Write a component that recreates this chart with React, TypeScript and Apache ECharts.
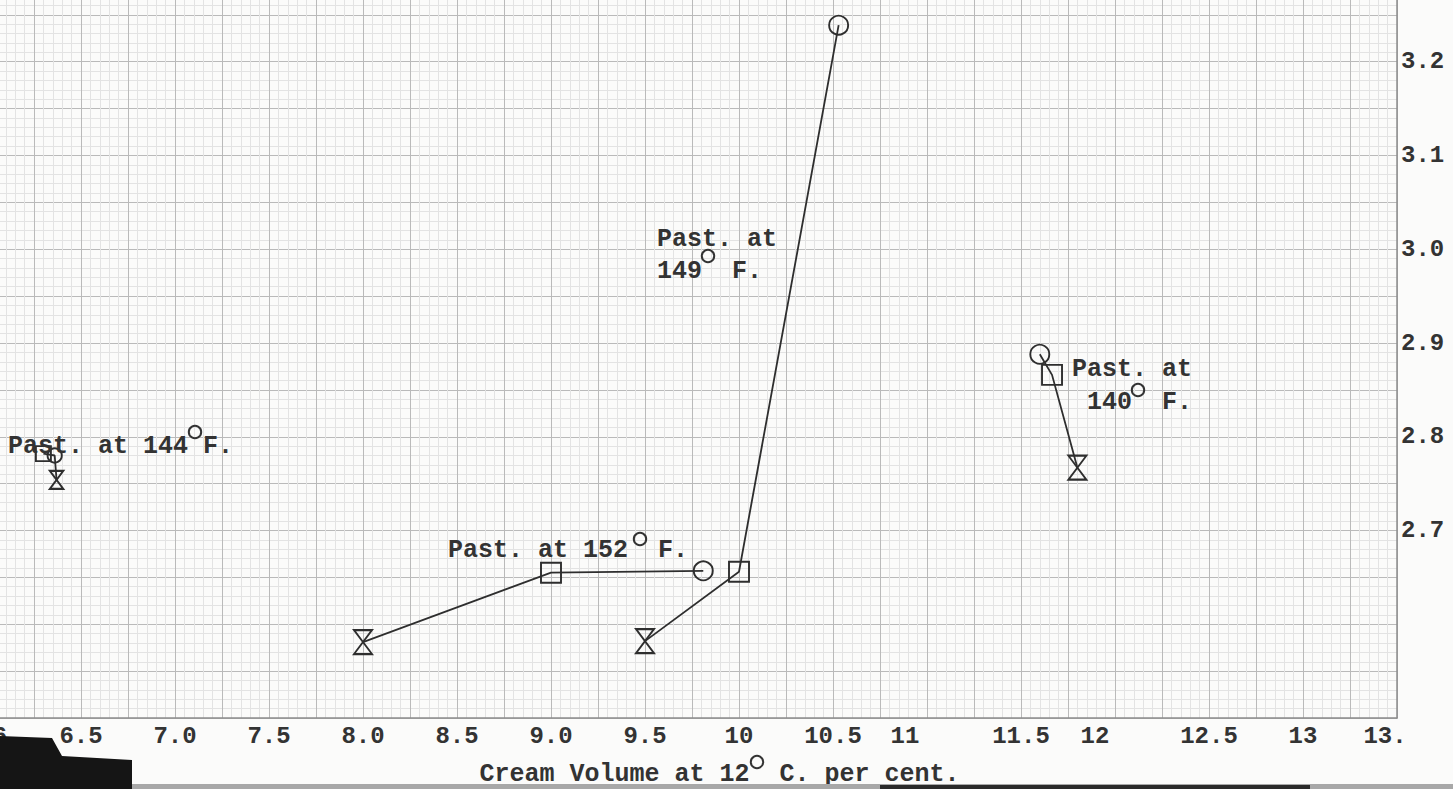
import React, { useEffect, useRef } from "react";
import * as echarts from "echarts";

// ---- tick labels ----
const xTickValues = [6, 6.5, 7, 7.5, 8, 8.5, 9, 9.5, 10, 10.5, 11, 11.5, 12, 12.5, 13, 13.5];
const xTickLabels = ["6", "6.5", "7.0", "7.5", "8.0", "8.5", "9.0", "9.5", "10", "10.5", "11", "11.5", "12", "12.5", "13", "13."];
const yTickValues = [2.7, 2.8, 2.9, 3.0, 3.1, 3.2];
const yTickLabels = ["2.7", "2.8", "2.9", "3.0", "3.1", "3.2"];

// ---- series (cream volume %, y value) ----
const past152X = [8.0, 9.0, 9.81];
const past152Y = [2.581, 2.655, 2.657];
const past152Marks = ["hourglass", "square", "circle"];

const past149X = [9.5, 10.0, 10.53];
const past149Y = [2.582, 2.656, 3.239];
const past149Marks = ["hourglass", "square", "circle"];

const past140X = [11.6, 11.665, 11.8];
const past140Y = [2.888, 2.866, 2.767];
const past140Marks = ["circle", "square", "hourglass"];

const past144X = [6.3, 6.36, 6.37];
const past144Y = [2.782, 2.78, 2.754];
const past144Marks = ["square", "circle", "hourglass"];

// ---- styles ----
const FONT = "'Liberation Mono', 'Courier New', monospace";
const INK = "#333333";
const SYMBOLS: Record<string, string> = {
  circle: "circle",
  square: "rect",
  hourglass: "path://M0,0L10,0L0,12L10,12Z",
};
const SIZES: Record<string, number[]> = {
  circle: [19, 19],
  square: [20, 20],
  hourglass: [18, 24],
};
// label nudges in px (positive = left, negative = right), matching the typed labels
const X_SHIFT: Record<string, number> = { "6": -13, "11": 22, "12": 20, "13.": 12 };

function buildSeries(name: string, xs: number[], ys: number[], marks: string[], scale: number) {
  return {
    name,
    type: "line",
    data: xs.map((x, i) => ({
      value: [x, ys[i]],
      symbol: SYMBOLS[marks[i]],
      symbolSize: SIZES[marks[i]].map((s) => s * scale),
    })),
    lineStyle: { color: "#2e2e2e", width: 1.8 },
    itemStyle: { color: "rgba(0,0,0,0)", borderColor: "#2e2e2e", borderWidth: 1.9 },
    showSymbol: true,
    symbolKeepAspect: false,
    clip: false,
    z: 5,
  };
}

function findIdx(vals: number[], v: number) {
  for (let i = 0; i < vals.length; i++) if (Math.abs(vals[i] - v) < 1e-6) return i;
  return -1;
}

export default function App() {
  const ref = useRef<HTMLDivElement>(null);
  useEffect(() => {
    if (!ref.current) return;
    const chart = echarts.init(ref.current, null, { renderer: "svg" });
    const richShift: Record<string, any> = {};
    Object.entries(X_SHIFT).forEach(([, s]) => {
      const key = s < 0 ? "r" + -s : "l" + s;
      richShift[key] = { padding: s < 0 ? [0, 0, 0, -2 * s] : [0, 2 * s, 0, 0] };
    });
    const annoText = (x: number, y: number, text: string, lh: number) => ({
      type: "text",
      x,
      y,
      z: 10,
      style: {
        text,
        fill: INK,
        fontFamily: FONT,
        fontSize: 25,
        fontWeight: "bold",
        lineHeight: lh,
        verticalAlign: "top",
        align: "left",
      },
    });
    // degree sign drawn as a small ring
    const degree = (cx: number, cy: number) => ({
      type: "circle",
      z: 10,
      shape: { cx, cy, r: 6.2 },
      style: { fill: "none", stroke: INK, lineWidth: 2 },
    });
    chart.setOption({
      animation: false,
      backgroundColor: "#fbfbfa",
      grid: {
        left: -13,
        right: 56,
        top: -32,
        bottom: 71,
        containLabel: false,
        outerBoundsMode: "none",
      },
      xAxis: {
        type: "value",
        min: 6,
        max: 13.5,
        interval: 0.25,
        axisLine: { show: true, lineStyle: { color: "#8c8c8c", width: 1.5 } },
        axisTick: { show: false },
        splitLine: { show: true, lineStyle: { color: "#bababa", width: 1 } },
        minorTick: { show: false, splitNumber: 5 },
        minorSplitLine: { show: true, lineStyle: { color: "#e3e3e3", width: 1 } },
        axisLabel: {
          margin: 6,
          fontFamily: FONT,
          fontSize: 24,
          fontWeight: "bold",
          color: INK,
          showMinLabel: true,
          showMaxLabel: true,
          hideOverlap: false,
          formatter: (v: number) => {
            const i = findIdx(xTickValues, v);
            if (i < 0) return "";
            const t = xTickLabels[i];
            const s = X_SHIFT[t];
            if (!s) return t;
            const key = s < 0 ? "r" + -s : "l" + s;
            return `{${key}|${t}}`;
          },
          rich: richShift,
        },
        name: "Cream Volume at 12  C. per cent.",
        nameLocation: "middle",
        nameGap: 44,
        nameTextStyle: {
          fontFamily: FONT,
          fontSize: 25,
          fontWeight: "bold",
          color: INK,
          padding: [0, 0, 0, 55],
        },
      },
      yAxis: {
        type: "value",
        position: "right",
        min: 2.5,
        max: 3.3,
        interval: 0.05,
        axisLine: { show: true, lineStyle: { color: "#8c8c8c", width: 1.5 } },
        axisTick: { show: false },
        splitLine: { show: true, lineStyle: { color: "#bababa", width: 1 } },
        minorTick: { show: false, splitNumber: 5 },
        minorSplitLine: { show: true, lineStyle: { color: "#e3e3e3", width: 1 } },
        axisLabel: {
          margin: 4,
          fontFamily: FONT,
          fontSize: 24,
          fontWeight: "bold",
          color: INK,
          padding: [0, 0, 8, 0],
          formatter: (v: number) => {
            const i = findIdx(yTickValues, v);
            return i < 0 ? "" : yTickLabels[i];
          },
        },
      },
      series: [
        buildSeries("Past. at 152° F.", past152X, past152Y, past152Marks, 1),
        buildSeries("Past. at 149° F.", past149X, past149Y, past149Marks, 1),
        buildSeries("Past. at 140° F.", past140X, past140Y, past140Marks, 1),
        buildSeries("Past. at 144° F.", past144X, past144Y, past144Marks, 0.75),
      ],
      graphic: [
        annoText(8, 432, "Past. at 144 F.", 28),
        degree(195, 432),
        annoText(448, 536, "Past. at 152  F.", 28),
        degree(640, 539),
        annoText(657, 223, "Past. at\n149  F.", 32),
        degree(708, 256),
        annoText(1072, 353, "Past. at\n 140  F.", 33),
        degree(1138, 390),
        degree(757, 762),
        {
          type: "polygon",
          z: 1,
          shape: { points: [[0, 736], [52, 738], [62, 756], [132, 760], [132, 789], [0, 789]] },
          style: { fill: "#151515" },
        },
        { type: "rect", z: 1, shape: { x: 132, y: 784, width: 1321, height: 5 }, style: { fill: "#a8a8a8" } },
        { type: "rect", z: 1, shape: { x: 880, y: 785, width: 430, height: 4 }, style: { fill: "#2a2a2a" } },
      ],
    });
    return () => chart.dispose();
  }, []);
  return (
    <div
      ref={ref}
      style={{ position: "fixed", left: 0, top: 0, width: 1453, height: 789 }}
    />
  );
}
